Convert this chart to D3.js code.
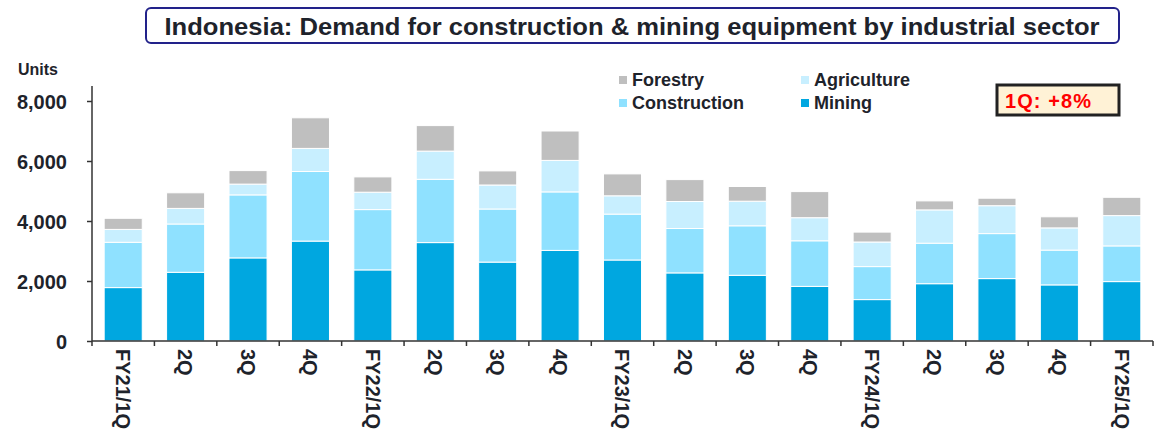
<!DOCTYPE html>
<html>
<head>
<meta charset="utf-8">
<script src="https://cdn.jsdelivr.net/npm/d3@7"></script>
<style>
  body { margin: 0; background: #fff; }
  text { font-family: "Liberation Sans", Arial, sans-serif; font-weight: bold; fill: #1e232b; }
</style>
</head>
<body>
<script>
// Quartale
const quarters = ["FY21/1Q", "2Q", "3Q", "4Q", "FY22/1Q", "2Q", "3Q", "4Q",
                  "FY23/1Q", "2Q", "3Q", "4Q", "FY24/1Q", "2Q", "3Q", "4Q", "FY25/1Q"];

// Werte pro Sektor (Einheiten)
const mining       = [1780, 2290, 2770, 3330, 2370, 3280, 2630, 3020, 2700, 2270, 2190, 1820, 1380, 1910, 2080, 1870, 1980];
const construction = [1510, 1610, 2100, 2320, 2010, 2110, 1770, 1950, 1530, 1480, 1650, 1520, 1100, 1350, 1500, 1160, 1190];
const agriculture  = [430, 520, 360, 770, 580, 940, 800, 1050, 610, 900, 820, 770, 820, 1110, 930, 740, 1010];
const forestry     = [370, 520, 450, 1020, 510, 850, 470, 980, 730, 730, 490, 870, 330, 300, 250, 370, 610];

const yTicks = [0, 2000, 4000, 6000, 8000];

const sectors = ["Mining", "Construction", "Agriculture", "Forestry"];
const colors = {Mining: "#00a7e0", Construction: "#8fe1ff", Agriculture: "#c8efff", Forestry: "#bfbfbf"};

const W = 1164, H = 435;
const svg = d3.select("body").append("svg").attr("width", W).attr("height", H);

// Tabelle für den Stack
const rows = quarters.map((q, i) => ({
    idx: i,
    Mining: mining[i], Construction: construction[i],
    Agriculture: agriculture[i], Forestry: forestry[i]
}));
const stacked = d3.stack().keys(sectors)(rows);

// Skalen
const x = d3.scaleBand().domain(d3.range(quarters.length)).range([92, 1153]).paddingInner(0.39).paddingOuter(0.195);
const y = d3.scaleLinear().domain([0, 8000]).range([341, 101]);

// Balken
svg.append("g").selectAll("g")
    .data(stacked)
    .join("g")
    .attr("fill", d => colors[d.key])
    .selectAll("rect")
    .data(d => d)
    .join("rect")
    .attr("x", d => x(d.data.idx))
    .attr("width", x.bandwidth())
    .attr("y", d => y(d[1]))
    .attr("height", d => y(d[0]) - y(d[1]))
    .attr("stroke", "#fff")
    .attr("stroke-width", 1);

// Y-Achse
const yAxis = svg.append("g")
    .attr("transform", "translate(92,0)")
    .call(d3.axisLeft(y).tickValues(yTicks).tickFormat(d3.format(",")).tickSize(5).tickPadding(20).tickSizeOuter(0));
yAxis.select(".domain").attr("d", "M0,86V341").attr("stroke", "#333").attr("stroke-width", 1.5);
yAxis.selectAll(".tick line").attr("stroke", "#333").attr("stroke-width", 1.5);
yAxis.selectAll(".tick text").style("font-size", "20px").attr("fill", "#1e232b").attr("dy", "0.36em");

// X-Achse mit Strichen zwischen den Kategorien
const step = x.step();
const xg = svg.append("g");
xg.append("line").attr("x1", 92).attr("x2", 1153).attr("y1", 341).attr("y2", 341)
    .attr("stroke", "#333").attr("stroke-width", 1.5);
xg.selectAll("line.tk")
    .data(d3.range(quarters.length + 1))
    .join("line")
    .attr("class", "tk")
    .attr("x1", i => 92 + i * step).attr("x2", i => 92 + i * step)
    .attr("y1", 341).attr("y2", 346)
    .attr("stroke", "#333").attr("stroke-width", 1.5);
xg.selectAll("text")
    .data(quarters)
    .join("text")
    .attr("transform", (d, i) => `translate(${x(i) + x.bandwidth() / 2},349) rotate(90)`)
    .attr("dy", "0.36em")
    .style("font-size", "20px")
    .text(d => d);

// Einheit
svg.append("text").attr("x", 18).attr("y", 75).style("font-size", "16px").text("Units");

// Titel
svg.append("rect").attr("x", 146).attr("y", 8).attr("width", 973).attr("height", 35).attr("rx", 5)
    .attr("fill", "#fff").attr("stroke", "#22228a").attr("stroke-width", 2);
svg.append("text").attr("x", 632).attr("y", 35).attr("text-anchor", "middle")
    .attr("textLength", 935).attr("lengthAdjust", "spacingAndGlyphs")
    .style("font-size", "24px").text("Indonesia: Demand for construction & mining equipment by industrial sector");

// Legende
const legendItems = [
    {key: "Forestry", x: 619, y: 76},
    {key: "Construction", x: 619, y: 99},
    {key: "Agriculture", x: 801, y: 76},
    {key: "Mining", x: 801, y: 99}
];
const lg = svg.append("g").selectAll("g").data(legendItems).join("g");
lg.append("rect").attr("x", d => d.x).attr("y", d => d.y).attr("width", 8).attr("height", 8)
    .attr("fill", d => colors[d.key]);
lg.append("text").attr("x", d => d.x + 13).attr("y", d => d.y + 10).style("font-size", "18px").text(d => d.key);

// Hinweisbox
svg.append("rect").attr("x", 997).attr("y", 85).attr("width", 122).attr("height", 30)
    .attr("fill", "#fff2d6").attr("stroke", "#222").attr("stroke-width", 3);
svg.append("text").attr("x", 1005).attr("y", 108).style("font-size", "20px").style("fill", "#ff0000")
    .attr("textLength", 86).attr("lengthAdjust", "spacing")
    .text("1Q: +8%");
</script>
</body>
</html>
